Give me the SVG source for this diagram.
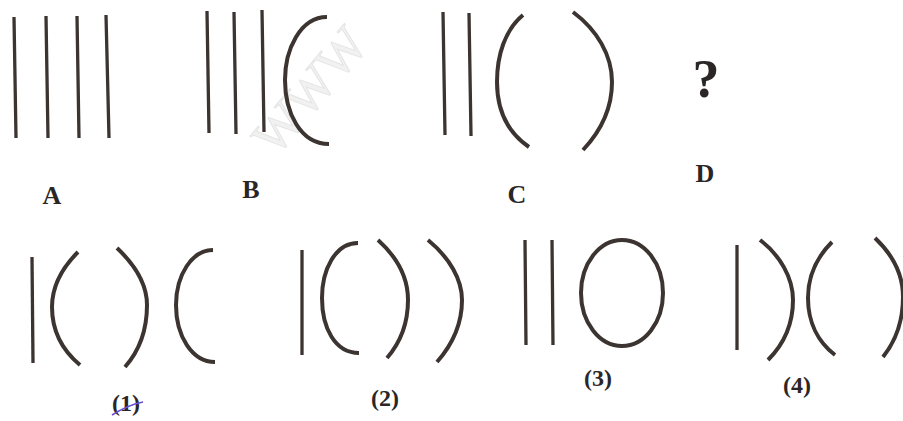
<svg xmlns="http://www.w3.org/2000/svg" width="903" height="421" viewBox="0 0 903 421">
<style>
.ln{stroke:#3b3431;stroke-width:3.3;fill:none;stroke-linecap:butt}
.cv{stroke:#3b3431;stroke-width:4;fill:none;stroke-linecap:butt}
.lb{font-family:"Liberation Serif","Times New Roman",serif;font-weight:bold;fill:#2b2626;text-anchor:middle}
.wm{font-family:"Liberation Serif","Times New Roman",serif;fill:#f1f1f1;stroke:#e2e2e2;stroke-width:0.8}
</style>
<rect width="903" height="421" fill="#ffffff"/>
<text class="wm" font-size="52" transform="translate(276,158) rotate(-50)">WWW</text>
<g id="figA">
<path class="ln" d="M14,17L16,138M46,16L48,138M77,16L79,138M106,15L109,138"/>
<text class="lb" x="52" y="204" font-size="26">A</text>
</g>
<g id="figB">
<path class="ln" d="M207,11L209,133M234,12L236,134M262,10L264,132"/>
<path class="cv" d="M327,17C300,17 285,50 285,80C285,112 300,144 329,144"/>
<text class="lb" x="251" y="198" font-size="26">B</text>
</g>
<g id="figC">
<path class="ln" d="M443,12L445,135M469,13L471,136"/>
<path class="cv" d="M523,15C505,30 497,55 497,82C497,110 507,132 529,147"/>
<path class="cv" d="M573,12C597,30 612,55 612,82C612,110 600,132 583,150"/>
<text class="lb" x="517" y="203" font-size="26">C</text>
</g>
<g id="figD">
<text class="lb" x="706" y="97" font-size="54">?</text>
<text class="lb" x="705" y="182" font-size="26">D</text>
</g>
<g id="opt1">
<path class="ln" d="M32,257L33,363"/>
<path class="cv" d="M78,252C62,268 52,285 52,307C52,330 62,350 80,365"/>
<path class="cv" d="M117,248C135,265 147,283 147,305C147,330 140,350 125,367"/>
<path class="cv" d="M213,250C192,250 176,275 176,305C176,336 192,362 215,362"/>
<text class="lb" x="126" y="411" font-size="24">(1)</text>
<path d="M112,415C120,410 132,404 143,402" stroke="#6b4fd0" stroke-width="1.6" fill="none"/>
</g>
<g id="opt2">
<path class="ln" d="M302,250L302,355"/>
<path class="cv" d="M358,243C335,243 322,270 322,298C322,328 335,353 359,353"/>
<path class="cv" d="M378,240C398,258 408,278 408,300C408,325 400,343 387,358"/>
<path class="cv" d="M428,240C450,258 462,280 462,300C462,326 452,345 437,362"/>
<text class="lb" x="385" y="406" font-size="24">(2)</text>
</g>
<g id="opt3">
<path class="ln" d="M525,240L526,345M552,240L553,345"/>
<ellipse class="cv" cx="622" cy="293" rx="41" ry="53"/>
<text class="lb" x="598" y="386" font-size="24">(3)</text>
</g>
<g id="opt4">
<path class="ln" d="M737,245L737,350"/>
<path class="cv" d="M760,240C780,255 793,278 793,300C793,325 783,345 768,360"/>
<path class="cv" d="M832,242C816,258 808,278 808,298C808,322 818,342 835,355"/>
<path class="cv" d="M875,238C893,255 903,275 903,297C903,322 895,342 883,357"/>
<text class="lb" x="797" y="393" font-size="24">(4)</text>
</g>
<g id="connectors"></g>
</svg>
